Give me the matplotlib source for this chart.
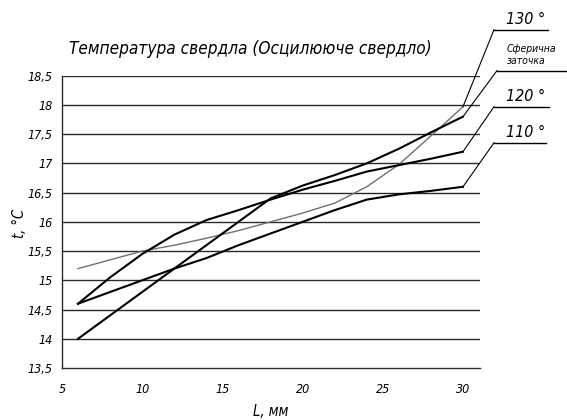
import matplotlib
matplotlib.use("Agg")
import matplotlib.pyplot as plt
from matplotlib import font_manager as fm
from matplotlib.lines import Line2D
from matplotlib.transforms import IdentityTransform

# ---- data ----
L_mm = [6, 8, 10, 12, 14, 16, 18, 20, 22, 24, 26, 28, 30]
t_130 = [15.2, 15.35, 15.5, 15.6, 15.72, 15.85, 16.0, 16.15, 16.32, 16.6, 16.98, 17.47, 17.97]
t_sphere = [14.0, 14.4, 14.8, 15.2, 15.6, 16.0, 16.4, 16.62, 16.8, 17.0, 17.25, 17.53, 17.8]
t_120 = [14.6, 15.05, 15.45, 15.78, 16.03, 16.2, 16.38, 16.55, 16.7, 16.86, 16.97, 17.08, 17.2]
t_110 = [14.6, 14.8, 15.0, 15.2, 15.38, 15.6, 15.8, 16.0, 16.2, 16.38, 16.47, 16.53, 16.6]
x_ticks = [5, 10, 15, 20, 25, 30]
y_ticks = [13.5, 14, 14.5, 15, 15.5, 16, 16.5, 17, 17.5, 18, 18.5]
y_tick_labels = ["13,5", "14", "14,5", "15", "15,5", "16", "16,5", "17", "17,5", "18", "18,5"]
title = "Температура свердла (Осцилююче свердло)"
x_label = "L, мм"
y_label = "t, °C"
labels = ["130 °", "Сферична\nзаточка", "120 °", "110 °"]

# look for a condensed italic face among installed fonts
narrow = None
for f in fm.fontManager.ttflist:
    st = str(f.stretch).lower()
    if ("condensed" in st or "narrow" in f.name.lower() or "condensed" in f.name.lower()) \
            and f.style in ("italic", "oblique"):
        narrow = f
        break

if narrow is not None:
    plt.rcParams["font.family"] = [narrow.name, "DejaVu Sans"]
    plt.rcParams["font.stretch"] = narrow.stretch
    k = 1.0
else:
    plt.rcParams["font.family"] = ["DejaVu Sans"]
    k = 0.8
plt.rcParams["font.style"] = "italic"

W, H = 567, 420
fig = plt.figure(figsize=(W / 100, H / 100), dpi=100)
ax = fig.add_axes([62 / W, 1 - 368 / H, (480 - 62) / W, (368 - 75.7) / H])

ax.set_xlim(5, 31.06)
ax.set_ylim(13.5, 18.5)

for y in y_ticks[1:]:
    ax.axhline(y, color="#2a2a2a", lw=1.0, zorder=1)

ax.plot(L_mm, t_130, color="#707070", lw=1.0, zorder=3)
ax.plot(L_mm, t_sphere, color="black", lw=1.5, zorder=3)
ax.plot(L_mm, t_120, color="black", lw=1.5, zorder=3)
ax.plot(L_mm, t_110, color="black", lw=1.5, zorder=3)

for s in ["top", "right"]:
    ax.spines[s].set_visible(False)
for s in ["left", "bottom"]:
    ax.spines[s].set_linewidth(1.0)
    ax.spines[s].set_color("#2a2a2a")

ax.set_xticks(x_ticks)
ax.set_xticklabels([str(v) for v in x_ticks])
ax.set_yticks(y_ticks)
ax.set_yticklabels(y_tick_labels)
ax.tick_params(axis="both", length=0, labelsize=9 * k)
ax.tick_params(axis="x", pad=11)
ax.tick_params(axis="y", pad=7)

fig.text(69 / W, 1 - 49 / H, title, fontsize=12.3 * k, va="center", ha="left")
fig.text(20 / W, 1 - 223 / H, y_label, fontsize=10.5 * k, rotation=90, va="center", ha="center")
fig.text(271 / W, 1 - 411 / H, x_label, fontsize=10.5 * k, va="center", ha="center")

# leader annotations (offsets in pixels, image y-down)
ends = [t_130[-1], t_sphere[-1], t_120[-1], t_110[-1]]
offs = [(31, -77, 54), (34, -46, 72), (31, -45, 55), (31, -44, 52)]
for i, (lab, yv, (dx, dy, w)) in enumerate(zip(labels, ends, offs)):
    px, py = ax.transData.transform((L_mm[-1], yv))
    ex, ey = px + dx, py - dy
    fig.add_artist(Line2D([px, ex], [py, ey], color="black", lw=0.8, transform=IdentityTransform()))
    fig.add_artist(Line2D([ex, ex + w], [ey, ey], color="black", lw=1.0, transform=IdentityTransform()))
    if i == 1:
        fig.text((ex + 10) / W, (ey + 5) / H, lab, fontsize=7.5 * k, ha="left", va="bottom", linespacing=1.25)
    else:
        fig.text((ex + 12) / W, (ey + 3) / H, lab, fontsize=11.5 * k, ha="left", va="bottom")

fig.savefig("out.png", dpi=100)
